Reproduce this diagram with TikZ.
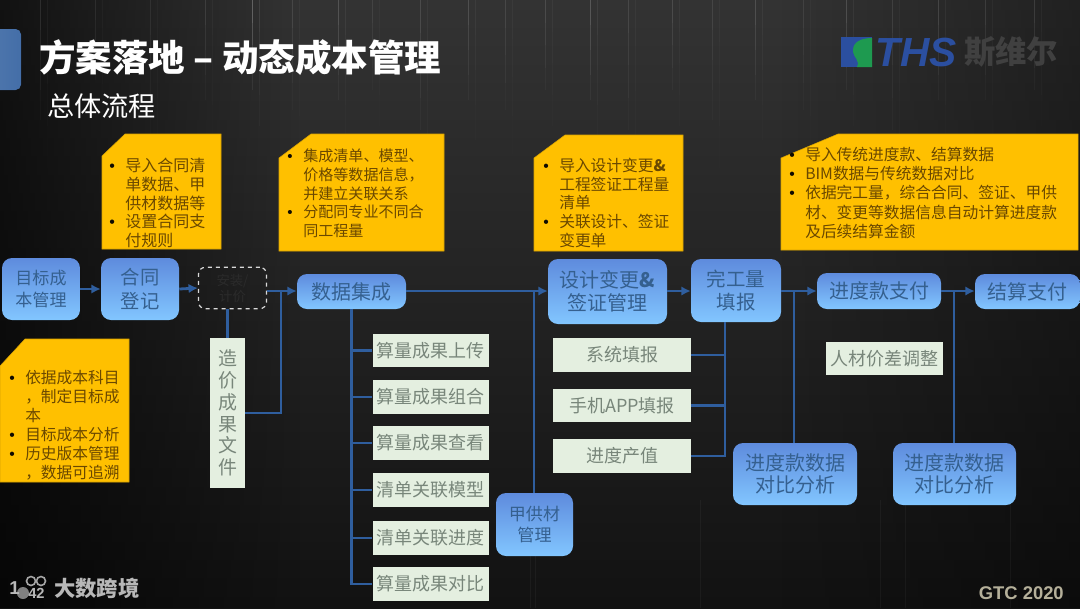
\documentclass[tikz,border=0pt]{standalone}
\usepackage{fontspec}
\setmainfont{Noto Sans CJK SC}
\newfontfamily\latinbold{Liberation Sans}
\usetikzlibrary{arrows.meta,calc,fadings}
\definecolor{bgblack}{HTML}{121212}
\definecolor{flowblue}{HTML}{2F5E9E}
\definecolor{ytext}{HTML}{6A4800}
\definecolor{bluetext}{HTML}{35608F}
\definecolor{greytext}{HTML}{78867A}
\definecolor{lightfill}{HTML}{E4EFE0}
\definecolor{gold}{HTML}{FFC000}
\definecolor{topblue}{HTML}{5E8BDD}
\definecolor{botblue}{HTML}{82C6FF}
\definecolor{logoblue}{HTML}{2B4FA0}
\definecolor{logogreen}{HTML}{1E9A50}
\definecolor{gtctan}{HTML}{B5B09A}
\tikzset{
  x=0.75pt,y=-0.75pt,
  bluebox/.style={rounded corners=7.5pt,top color=topblue,bottom color=botblue,
     text=bluetext,align=center,inner sep=0pt,anchor=center},
  lightbox/.style={fill=lightfill,text=greytext,align=center,inner sep=0pt,font=\fontsize{13.5}{16}\selectfont},
  link/.style={draw=flowblue,line width=2.1pt},
  linkarrow/.style={link,-{Latex[length=7pt,width=7pt]}},
  yellowbox/.style={fill=gold,draw=gold!85!black,line width=0.4pt},
  yellowtext/.style={text=ytext,anchor=north west,align=left,inner sep=0pt,font=\fontsize{12}{14}\selectfont},
}
\newcommand{\bl}[1]{\makebox[12pt][l]{\textcolor{black!85!ytext}{\latinbold •}}#1}
\newcommand{\cn}[1]{\hspace*{12pt}#1}
\newcommand{\bbox}[6]{\node[bluebox,minimum width=#3*0.75pt-#1*0.75pt,minimum height=#4*0.75pt-#2*0.75pt,font=\fontsize{#6}{#5}\selectfont] at ({(#1+#3)/2},{(#2+#4)/2})}
\begin{document}
\begin{tikzpicture}
\useasboundingbox (0,0) rectangle (1080,608);
% background
\shade[top color=black!80,middle color=black!86,bottom color=black!93] (0,0) rectangle (1080,608);
\fill[black,path fading=east,opacity=.65] (0,0) rectangle (300,608);
\fill[black,path fading=west,opacity=.35] (780,0) rectangle (1080,608);
\foreach \sx/\sl/\so in {40/120/.10,95/80/.08,150/140/.07,205/100/.10,252/90/.25,292/110/.10,338/100/.16,372/90/.08,420/130/.12,468/100/.14,505/110/.10,545/90/.12,590/100/.18,628/130/.10,672/90/.12,712/120/.09,755/100/.14,803/110/.08,846/90/.15,892/130/.09,938/100/.13,985/100/.10,1034/90/.11}{
  \foreach \k in {0,1,2,3}{
    \fill[white,opacity=\so*(1-\k/4)] (\sx,{\sl*\k/4}) rectangle ++(1.2,{\sl/4});
    \fill[white,opacity=\so*0.35*(1-\k/4)] (\sx+7,{\sl*\k*0.35}) rectangle ++(1,{\sl*0.35});
  }
}
\foreach \sx in {530,535,700,880,905,1010}{\fill[white,opacity=.04] (\sx,500) rectangle ++(1.2,108);}

% header
\fill[left color=flowblue!85!white,right color=flowblue!90!white,rounded corners=4pt] (-8,29) rectangle (21,90);
\node[text=white,anchor=west,inner sep=0pt,font=\fontsize{27.4}{30}\selectfont\bfseries] (title) at (39,58) {方案落地 – 动态成本管理};
\node[text=white,anchor=west,inner sep=0pt,font=\fontsize{20.4}{24}\selectfont] (subtitle) at (47,106) {总体流程};

% logo
\fill[logoblue] (841,37) rectangle (872,67);
\fill[logogreen] (872,38) .. controls (856,38) and (852,46) .. (853,52) .. controls (854,58) and (860,60) .. (857,67) -- (872,67) -- cycle;
\node[text=logoblue,anchor=west,inner sep=0pt,font=\latinbold\fontsize{30.5}{32}\selectfont\bfseries\itshape] (logo) at (875,52) {THS};
\node[text=black!75,anchor=west,inner sep=0pt,font=\fontsize{23.5}{26}\selectfont\bfseries] (logocn) at (964,52) {斯维尔};

% yellow notes
\fill[yellowbox] (102,156)--(125,134)--(221,134)--(221,249)--(102,249)--cycle;
\node[yellowtext] (n1) at (109,158) {\bl{导入合同清}\\\cn{单数据、甲}\\\cn{供材数据等}\\\bl{设置合同支}\\\cn{付规则}};
\fill[yellowbox] (279,158)--(311,134)--(444,134)--(444,251)--(279,251)--cycle;
\node[yellowtext,font=\fontsize{11.3}{14}\selectfont] (n2) at (287,149) {\bl{集成清单、模型、}\\\cn{价格等数据信息，}\\\cn{并建立关联关系}\\\bl{分配同专业不同合}\\\cn{同工程量}};
\fill[yellowbox] (534,158)--(565,135)--(683,135)--(683,251)--(534,251)--cycle;
\node[yellowtext,font=\fontsize{11.8}{14}\selectfont] (n3) at (543,158) {\bl{导入设计变更\textbf{\&}}\\\cn{工程签证工程量}\\\cn{清单}\\\bl{关联设计、签证}\\\cn{变更单}};
\fill[yellowbox] (781,158)--(838,134)--(1078,134)--(1078,250)--(781,250)--cycle;
\node[yellowtext,font=\fontsize{11.8}{14.4}\selectfont] (n4) at (789,147) {\bl{导入传统进度款、结算数据}\\\bl{BIM数据与传统数据对比}\\\bl{依据完工量，综合合同、签证、甲供}\\\cn{材、变更等数据信息自动计算进度款}\\\cn{及后续结算金额}};
\fill[yellowbox] (0,366)--(25,339)--(129,339)--(129,482)--(0,482)--cycle;
\node[yellowtext,font=\fontsize{11.8}{14.2}\selectfont] (n5) at (9,370) {\bl{依据成本科目}\\\cn{，制定目标成}\\\cn{本}\\\bl{目标成本分析}\\\bl{历史版本管理}\\\cn{，数据可追溯}};

% blue nodes
\bbox{2}{258}{80}{320}{15.8}{12.8} (a) {目标成\\本管理};
\bbox{101}{258}{179}{320}{18}{14.5} (b) {合同\\登记};
\bbox{297}{274}{406}{309}{18}{15} (c) {数据集成};
\bbox{548}{259}{667}{324}{17.4}{15} (d) {设计变更\textbf{\&}\\签证管理};
\bbox{691}{259}{781}{322}{17.4}{14.6} (e) {完工量\\填报};
\bbox{817}{273}{941}{309}{18}{15} (f) {进度款支付};
\bbox{975}{274}{1080}{309}{18}{15} (g) {结算支付};
\bbox{496}{493}{573}{556}{16}{12.8} (h) {甲供材\\管理};
\bbox{733}{443}{857}{505}{17}{15} (i) {进度款数据\\对比分析};
\bbox{893}{443}{1016}{505}{17}{15} (j) {进度款数据\\对比分析};

% dashed node
\node[draw=white!85!black,dashed,line width=0.9pt,rounded corners=5pt,minimum width=51pt,minimum height=31pt,text=black!83,align=center,inner sep=0pt,font=\fontsize{10}{12}\selectfont] (dash) at (232.5,288) {安装/\\计价};

% light nodes
\node[lightbox,minimum width=26pt,minimum height=112.5pt,font=\fontsize{14.2}{16.3}\selectfont] (cost) at (227.5,413) {造\\价\\成\\果\\文\\件};
\foreach \nm/\yy/\tx in {c1/350.5/算量成果上传,c2/397/算量成果组合,c3/443/算量成果查看,c4/490/清单关联模型,c5/538/清单关联进度,c6/584/算量成果对比}{
  \node[lightbox,minimum width=87pt,minimum height=25pt] (\nm) at (430.5,\yy) {\tx};
}
\foreach \nm/\yy/\tx in {r1/355/系统填报,r2/405.5/手机APP填报,r3/456/进度产值}{
  \node[lightbox,minimum width=103.5pt,minimum height=25pt] (\nm) at (622,\yy) {\tx};
}
\node[lightbox,minimum width=87.5pt,minimum height=25pt] (adj) at (884.5,358.5) {人材价差调整};

% free points on the flow line
\coordinate (y) at (0,291);
\coordinate (wgb) at (725,322);
\coordinate (p1) at (281,291);
\coordinate (p2) at (534,291);
\coordinate (p3) at (794,291);
\coordinate (p4) at (954,291);
\coordinate (cr) at (245,413);
% connectors
\draw[linkarrow] (a.east) -- (b.west);
\draw[linkarrow] (b.east) -- (dash.west);
\draw[linkarrow] (dash.east |- y) -- (c.west |- y);
\draw[link] (cost.north) -- (cost.north |- dash.south);
\draw[link] (cr) -| (p1);
\draw[linkarrow] (c.east |- y) -- (d.west |- y);
\draw[linkarrow] (d.east |- y) -- (e.west |- y);
\draw[linkarrow] (e.east |- y) -- (f.west |- y);
\draw[linkarrow] (f.east |- y) -- (g.west |- y);
\foreach \nm in {c1,c2,c3,c4,c5,c6}{\draw[link] (c.south) |- (\nm.west);}
\draw[link] (h.north -| p2) -- (p2);
\foreach \nm in {r1,r2,r3}{\draw[link] (\nm.east) -| (wgb);}
\draw[link] (i.north -| p3) -- (p3);
\draw[link] (j.north -| p4) -- (p4);

% footer
\node[text=white!72!black,anchor=west,inner sep=0pt,font=\fontsize{16}{18}\selectfont\bfseries] (wm) at (54,588.5) {大数跨境};
\fill[white!50!black] (23,593) circle (6);
\node[text=white!72!black,anchor=west,inner sep=0pt,font=\latinbold\fontsize{14}{15}\selectfont\bfseries] (wmk) at (9,588) {1};
\node[text=white!72!black,anchor=west,inner sep=0pt,font=\latinbold\fontsize{11}{12}\selectfont\bfseries] (wmn) at (28,593) {42};
\draw[white!65!black,line width=1.2pt] (31,581) circle (4.5) (41,581) circle (4.5);
\node[text=gtctan,anchor=east,inner sep=0pt,font=\latinbold\fontsize{13.8}{15}\selectfont\bfseries] (gtc) at (1064,593) {GTC 2020};
\end{tikzpicture}
\end{document}
